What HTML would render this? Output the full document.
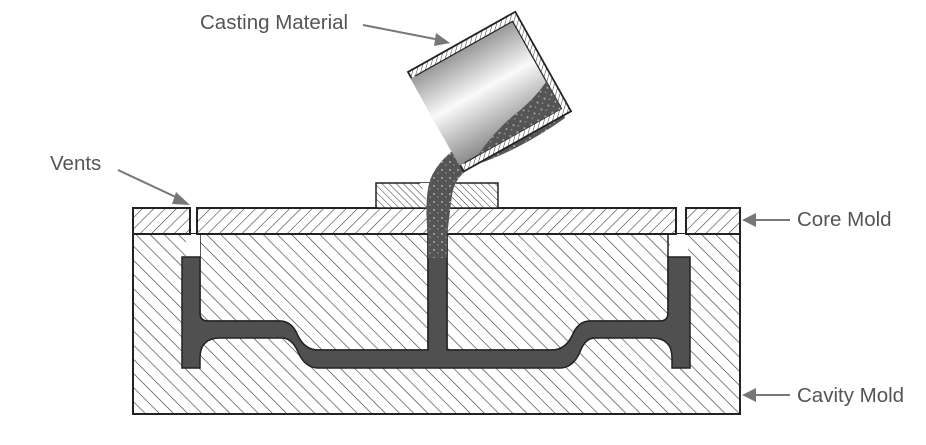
<!DOCTYPE html>
<html><head><meta charset="utf-8"><style>
html,body{margin:0;padding:0;background:#fff;}
svg{display:block;}
text{font-family:"Liberation Sans",sans-serif;font-size:20.5px;fill:#555;}
</style></head><body>
<svg width="926" height="445" viewBox="0 0 926 445" xmlns="http://www.w3.org/2000/svg">
<defs>
<pattern id="hb" width="10" height="10" patternUnits="userSpaceOnUse" patternTransform="rotate(-45)">
<rect width="10" height="10" fill="#fff"/><line x1="0" y1="0" x2="0" y2="10" stroke="#333" stroke-width="1.2"/></pattern>
<pattern id="hf" width="8" height="8" patternUnits="userSpaceOnUse" patternTransform="rotate(45)">
<rect width="8" height="8" fill="#fff"/><line x1="0" y1="0" x2="0" y2="8" stroke="#333" stroke-width="1.1"/></pattern>
<pattern id="hs" width="5" height="5" patternUnits="userSpaceOnUse" patternTransform="rotate(-45)">
<rect width="5" height="5" fill="#fff"/><line x1="0" y1="0" x2="0" y2="5" stroke="#333" stroke-width="1"/></pattern>
<pattern id="hw" width="4" height="4" patternUnits="userSpaceOnUse" patternTransform="rotate(45)">
<rect width="4" height="4" fill="#fff"/><line x1="0" y1="0" x2="0" y2="4" stroke="#333" stroke-width="1"/></pattern>
<linearGradient id="g" x1="0" y1="0" x2="0" y2="1">
<stop offset="0" stop-color="#999"/><stop offset="0.45" stop-color="#fafafa"/><stop offset="1" stop-color="#8a8a8a"/></linearGradient>
<pattern id="grain" width="8" height="8" patternUnits="userSpaceOnUse">
<rect width="8" height="8" fill="#555"/><circle cx="2" cy="2" r="1" fill="#aaa"/><circle cx="6" cy="5" r="0.8" fill="#999"/></pattern>
</defs>

<rect x="133" y="234" width="607" height="180" fill="url(#hb)" stroke="#222" stroke-width="2"/>
<path d="M200 234 H428 V350 H318 Q305 350 298 336 Q292 321 280 321 H208 Q200 321 200 313 Z" fill="url(#hb)" stroke="#222" stroke-width="1.5"/>
<path d="M447 234 H668 V313 Q668 321 660 321 H590 Q578 321 572 336 Q565 350 552 350 H447 Z" fill="url(#hb)" stroke="#222" stroke-width="1.5"/>
<rect x="186" y="234" width="14" height="24" fill="#fff"/>
<rect x="670" y="234" width="18" height="24" fill="#fff"/>
<path d="M182 257 H200 V313 Q200 321 208 321 H280 Q292 321 298 336 Q305 350 318 350 H428 V234 H447 V350 H552 Q565 350 572 336 Q578 321 590 321 H660 Q668 321 668 313 V257 H690 V368 H672 V358 Q672 338 652 338 H595 Q585 338 580 352 Q573 368 560 368 H318 Q305 368 298 352 Q292 338 282 338 H220 Q200 338 200 358 V368 H182 Z" fill="#505050" stroke="#222" stroke-width="1.5"/>
<rect x="133" y="208" width="57" height="26" fill="url(#hf)" stroke="#222" stroke-width="2"/>
<rect x="197" y="208" width="479" height="26" fill="url(#hf)" stroke="#222" stroke-width="2"/>
<rect x="686" y="208" width="54" height="26" fill="url(#hf)" stroke="#222" stroke-width="2"/>
<rect x="376" y="183" width="122" height="25" fill="url(#hs)" stroke="#222" stroke-width="1.5"/>
<path d="M420 183 H456 Q449 195 447 210 V236 H428 V210 Q426 195 420 183 Z" fill="#fff"/>
<rect x="428" y="208" width="19" height="28" fill="#fff" stroke="#222" stroke-width="1.5"/>
<path d="M428 258 V236 Q424 200 430 180 Q440 155 470 140 L520 118 L560 100 L565 118 Q520 150 475 165 Q455 175 452 195 L447 236 V258 Z" fill="url(#grain)"/>
<g transform="translate(408,72) rotate(-29.3)">
<rect x="0" y="0" width="123" height="114" fill="url(#hw)" stroke="#222" stroke-width="1.8"/>
<rect x="4" y="7" width="112" height="100" fill="url(#g)" stroke="#222" stroke-width="1.2"/>
<rect x="-1" y="7" width="6" height="100" fill="url(#g)"/>
<path d="M20 107 Q50 92 80 88 Q100 84 116 76 V107 Z" fill="url(#grain)"/>
</g>
<text x="200" y="29">Casting Material</text>
<line x1="363" y1="25" x2="440" y2="40" stroke="#777" stroke-width="2"/>
<polygon points="450,43 436,33 434,46" fill="#777"/>
<text x="50" y="170">Vents</text>
<line x1="118" y1="170" x2="180" y2="199" stroke="#777" stroke-width="2"/>
<polygon points="190,205 176,192 172,204" fill="#777"/>
<text x="797" y="226">Core Mold</text>
<line x1="790" y1="220" x2="752" y2="220" stroke="#777" stroke-width="2"/>
<polygon points="742,220 756,213 756,227" fill="#777"/>
<text x="797" y="402">Cavity Mold</text>
<line x1="790" y1="395" x2="752" y2="395" stroke="#777" stroke-width="2"/>
<polygon points="742,395 756,388 756,402" fill="#777"/>
</svg>
</body></html>
